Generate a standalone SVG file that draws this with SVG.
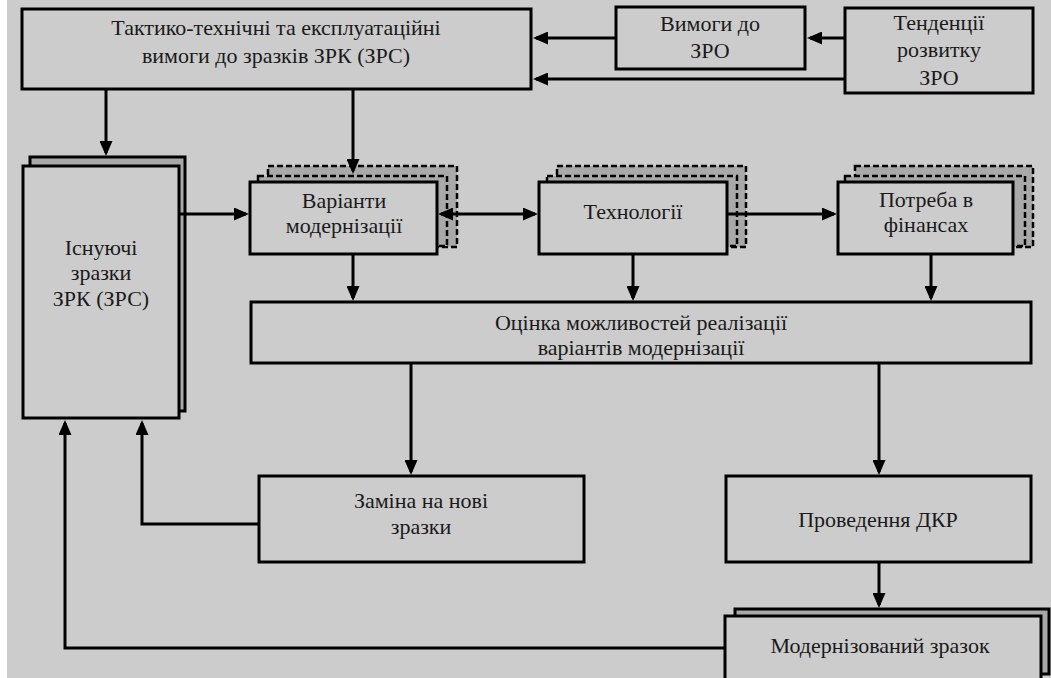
<svg xmlns="http://www.w3.org/2000/svg" width="1051" height="678" viewBox="0 0 1051 678">
<style>
.bg{fill:#cccccc}
.box{fill:#cccccc;stroke:#000;stroke-width:3}
.sh{fill:#a9a9a9;stroke:#000;stroke-width:3}
.dsh{fill:#a9a9a9;stroke:#000;stroke-width:2.5;stroke-dasharray:6 3}
text{font-family:Liberation Serif, DejaVu Serif, serif;font-size:22px;fill:#1a1a1a;text-anchor:middle}
.c{fill:none;stroke:#000;stroke-width:3}
</style>
<defs>
<marker id="ah" viewBox="0 0 15 13" markerWidth="15" markerHeight="13" refX="12" refY="6.5" orient="auto-start-reverse" markerUnits="userSpaceOnUse">
<path d="M0,0 L15,6.5 L0,13 z" fill="#000"/>
</marker>
</defs>
<rect class="bg" x="7" y="0" width="1044" height="678"/>

<g id="n-ttv">
<rect class="box" x="22" y="9" width="509" height="80"/>
<text x="276" y="35">Тактико-технічні та експлуатаційні</text>
<text x="276" y="63">вимоги до зразків ЗРК (ЗРС)</text>
</g>
<g id="n-vymogy">
<rect class="box" x="616" y="7" width="189" height="62"/>
<text x="710" y="31">Вимоги до</text>
<text x="710" y="58">ЗРО</text>
</g>
<g id="n-tendentsii">
<rect class="box" x="845" y="8" width="188" height="85"/>
<text x="939" y="30">Тенденції</text>
<text x="939" y="57">розвитку</text>
<text x="939" y="85">ЗРО</text>
</g>
<g id="n-isnuyuchi">
<rect class="sh" x="30" y="157" width="155" height="254"/>
<rect class="box" x="23" y="166" width="156" height="252"/>
<text x="101" y="255">Існуючі</text>
<text x="101" y="280">зразки</text>
<text x="101" y="306">ЗРК (ЗРС)</text>
</g>
<g id="n-varianty">
<rect class="dsh" x="268" y="166" width="189" height="81"/>
<rect class="dsh" x="258" y="176" width="189" height="70"/>
<rect class="box" x="250" y="182" width="187" height="72"/>
<text x="344" y="208">Варіанти</text>
<text x="344" y="233">модернізації</text>
</g>
<g id="n-tekhnolohii">
<rect class="dsh" x="557" y="166" width="189" height="81"/>
<rect class="dsh" x="547" y="176" width="190" height="70"/>
<rect class="box" x="539" y="182" width="188" height="72"/>
<text x="633" y="219">Технології</text>
</g>
<g id="n-potreba">
<rect class="dsh" x="855" y="166" width="178" height="81"/>
<rect class="dsh" x="845" y="176" width="180" height="70"/>
<rect class="box" x="838" y="182" width="175" height="72"/>
<text x="926" y="207">Потреба в</text>
<text x="926" y="232">фінансах</text>
</g>
<g id="n-otsinka">
<rect class="box" x="251" y="302" width="780" height="61"/>
<text x="641" y="330">Оцінка можливостей реалізації</text>
<text x="641" y="355">варіантів модернізації</text>
</g>
<g id="n-zamina">
<rect class="box" x="259" y="476" width="325" height="86"/>
<text x="421" y="508">Заміна на нові</text>
<text x="421" y="534">зразки</text>
</g>
<g id="n-dkr">
<rect class="box" x="726" y="476" width="305" height="86"/>
<text x="878" y="527">Проведення ДКР</text>
</g>
<g id="n-modern">
<rect class="sh" x="735" y="609" width="314" height="65"/>
<rect class="box" x="725" y="616" width="316" height="70"/>
<text x="880" y="653">Модернізований зразок</text>
</g>

<g id="connectors">
<line class="c" x1="616" y1="38" x2="536" y2="38" marker-end="url(#ah)"/>
<line class="c" x1="845" y1="38" x2="810" y2="38" marker-end="url(#ah)"/>
<line class="c" x1="845" y1="79" x2="536" y2="79" marker-end="url(#ah)"/>
<line class="c" x1="106" y1="89" x2="106" y2="153" marker-end="url(#ah)"/>
<line class="c" x1="353" y1="89" x2="353" y2="171" marker-end="url(#ah)"/>
<line class="c" x1="180" y1="214" x2="246" y2="214" marker-end="url(#ah)"/>
<line class="c" x1="441" y1="214" x2="535" y2="214" marker-start="url(#ah)" marker-end="url(#ah)"/>
<line class="c" x1="727" y1="214" x2="834" y2="214" marker-end="url(#ah)"/>
<line class="c" x1="353" y1="255" x2="353" y2="298" marker-end="url(#ah)"/>
<line class="c" x1="633" y1="255" x2="633" y2="298" marker-end="url(#ah)"/>
<line class="c" x1="931" y1="255" x2="931" y2="298" marker-end="url(#ah)"/>
<line class="c" x1="411" y1="363" x2="411" y2="472" marker-end="url(#ah)"/>
<line class="c" x1="879" y1="363" x2="879" y2="472" marker-end="url(#ah)"/>
<line class="c" x1="879" y1="562" x2="879" y2="605" marker-end="url(#ah)"/>
<path class="c" d="M259,524 H142 V423" marker-end="url(#ah)"/>
<path class="c" d="M725,648 H65 V423" marker-end="url(#ah)"/>
</g>
</svg>
